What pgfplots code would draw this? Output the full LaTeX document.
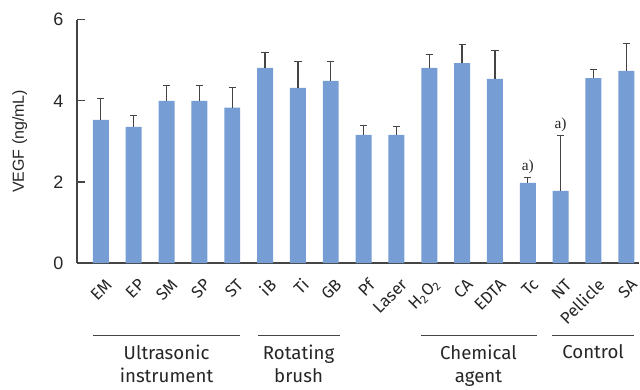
\documentclass[border=0pt]{standalone}
\usepackage{pgfplots}
\pgfplotsset{compat=1.18}
\usepackage{fontspec}
\setmainfont{Liberation Sans}
\newfontfamily\catfont{Fira Sans}
\newfontfamily\serfont{Liberation Serif}
\definecolor{barblue}{RGB}{118,158,212}
\definecolor{axgray}{RGB}{68,68,68}
\begin{document}
\begin{tikzpicture}[x=1pt,y=1pt]
\begin{axis}[
  at={(0,0)}, anchor=south west,
  scale only axis,
  width=422.25pt, height=182.7pt,
  xmin=-0.73, xmax=16.4,
  ymin=0, ymax=6,
  axis x line=bottom, axis y line=left,
  axis line style={-, axgray, line width=0.9pt},
  ytick={0,2,4,6},
  tick align=inside,
  major tick length=6pt,
  ytick style={axgray, line width=0.8pt},
  xtick={0,...,16},
  xtick style={draw=none},
  xticklabels={EM,EP,SM,SP,ST,iB,Ti,GB,Pf,Laser,{H\textsubscript{2}O\textsubscript{2}},CA,EDTA,Tc,NT,Pellicle,SA},
  xticklabel style={font=\catfont\fontsize{12.5}{14}\selectfont, inner sep=0pt, xshift=6pt, yshift=-14pt, rotate=45, anchor=east, text=black!85},
  yticklabel style={font=\fontsize{13.5}{15}\selectfont, text=black!85, inner sep=0pt, anchor=east, xshift=-10pt},
  /pgf/number format/assume math mode=true,
  ylabel={VEGF (ng/mL)},
  every axis y label/.style={at={(axis description cs:-0.0799,0.5)}, rotate=90, anchor=south, font=\fontsize{12}{14}\selectfont, text=black!85},
  clip=false,
]
\addplot[ybar, bar width=12pt, fill=barblue, draw=none,
  error bars/.cd, y dir=plus, y explicit,
  error bar style={axgray, line width=0.9pt},
  error mark options={rotate=90, mark size=2.7pt, axgray, line width=0.9pt}]
  table[x=x, y=y, y error=e] {
x y e
0 3.53 0.52
1 3.36 0.27
2 4.00 0.38
3 4.00 0.37
4 3.83 0.49
5 4.81 0.39
6 4.32 0.65
7 4.49 0.48
8 3.16 0.24
9 3.16 0.21
10 4.81 0.33
11 4.93 0.45
12 4.54 0.71
13 1.98 0.13
14 1.78 1.36
15 4.56 0.21
16 4.74 0.67
};
\node[font=\serfont\fontsize{11.5}{13}\selectfont, anchor=south, inner sep=1.5pt, text=black!85] at (axis cs:13,2.14) {a)};
\node[font=\serfont\fontsize{11.5}{13}\selectfont, anchor=south, inner sep=1.5pt, text=black!85] at (axis cs:14,3.17) {a)};
\draw[axgray, line width=0.8pt] (axis cs:-0.24,-1.79) -- (axis cs:4.23,-1.79);
\draw[axgray, line width=0.8pt] (axis cs:4.78,-1.79) -- (axis cs:7.27,-1.79);
\draw[axgray, line width=0.8pt] (axis cs:9.76,-1.79) -- (axis cs:13.27,-1.79);
\draw[axgray, line width=0.8pt] (axis cs:13.73,-1.79) -- (axis cs:16.25,-1.79);
\begin{scope}[every node/.style={font=\catfont\fontsize{14}{17.5}\selectfont, align=center, anchor=north, text=black!85, inner sep=0pt}]
\node at (axis cs:2.0,-2.0) {Ultrasonic\\instrument};
\node at (axis cs:6.02,-2.0) {Rotating\\brush};
\node at (axis cs:11.5,-2.0) {Chemical\\agent};
\node at (axis cs:14.99,-2.0) {Control};
\end{scope}
\end{axis}
\path[use as bounding box] (-57.75pt,-95pt) rectangle (422.25pt,197.5pt);
\end{tikzpicture}
\end{document}
